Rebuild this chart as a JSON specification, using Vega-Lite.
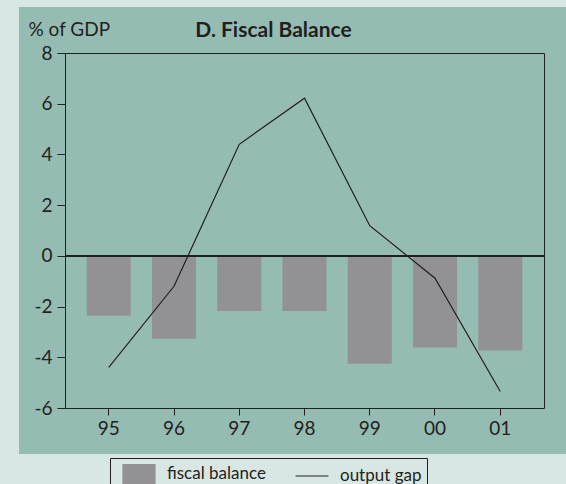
{
  "$schema": "https://vega.github.io/schema/vega-lite/v6.json",
  "width": 479,
  "height": 355,
  "autosize": {"type": "none"},
  "padding": {"left": 65, "top": 53, "right": 22, "bottom": 76},
  "background": "#d8e7e3",
  "config": {
    "font": "Lato",
    "view": {"fill": "#95bcb2", "stroke": "#95bcb2", "strokeWidth": 92},
    "axis": {
      "domainColor": "#231f20",
      "tickColor": "#231f20",
      "labelColor": "#231f20",
      "titleColor": "#231f20",
      "labelFontSize": 19,
      "labelFont": "Lato",
      "grid": false,
      "domainWidth": 1,
      "tickWidth": 1
    }
  },
  "data": {
    "values": [
      {"year": "95", "series": "fiscal balance", "value": -2.36},
      {"year": "96", "series": "fiscal balance", "value": -3.27},
      {"year": "97", "series": "fiscal balance", "value": -2.17},
      {"year": "98", "series": "fiscal balance", "value": -2.17},
      {"year": "99", "series": "fiscal balance", "value": -4.25},
      {"year": "00", "series": "fiscal balance", "value": -3.61},
      {"year": "01", "series": "fiscal balance", "value": -3.73},
      {"year": "95", "series": "output gap", "value": -4.4},
      {"year": "96", "series": "output gap", "value": -1.2},
      {"year": "97", "series": "output gap", "value": 4.4},
      {"year": "98", "series": "output gap", "value": 6.22},
      {"year": "99", "series": "output gap", "value": 1.19},
      {"year": "00", "series": "output gap", "value": -0.88},
      {"year": "01", "series": "output gap", "value": -5.35}
    ]
  },
  "layer": [
    {
      "transform": [{"filter": "datum.series === 'fiscal balance'"}],
      "mark": {"type": "bar"},
      "encoding": {
        "x": {
          "field": "year", "type": "ordinal", "sort": null,
          "scale": {"paddingInner": 0.325, "paddingOuter": 0.333},
          "axis": {"orient": "bottom", "labelAngle": 0, "tickSize": 7, "labelPadding": 4, "title": null}
        },
        "y": {
          "field": "value", "type": "quantitative",
          "scale": {"domain": [-6, 8], "nice": false, "zero": false},
          "axis": {
            "orient": "left", "values": [-6, -4, -2, 0, 2, 4, 6, 8], "tickSize": 8, "labelPadding": 5,
            "labelExpr": "datum.value < 0 ? '-' + abs(datum.value) : '' + datum.value",
            "title": "% of GDP", "titleAngle": 0, "titleAlign": "left", "titleBaseline": "alphabetic",
            "titleX": -37, "titleY": -18, "titleFontSize": 19, "titleFontWeight": "normal"
          }
        },
        "color": {
          "field": "series", "type": "nominal",
          "scale": {"domain": ["fiscal balance", "output gap"], "range": ["#929296", "#231f20"]},
          "legend": {
            "orient": "none", "legendX": 45, "legendY": 405, "direction": "horizontal", "title": null,
            "fillColor": "#d8e7e3", "strokeColor": "#231f20", "padding": 5,
            "symbolSize": 400, "symbolOffset": 13, "labelFontSize": 17, "labelColor": "#231f20", "labelOffset": 17,
            "columnPadding": 22, "symbolStrokeWidth": 1.2,
            "encode": {
              "symbols": {
                "update": {
                  "shape": {"signal": "datum.value === 'output gap' ? 'M-1.65,0H1.65' : 'M-1.6,-0.95H1.6V0.95H-1.6Z'"},
                  "fill": {"signal": "datum.value === 'output gap' ? 'transparent' : '#929296'"},
                  "stroke": {"signal": "datum.value === 'output gap' ? '#231f20' : 'transparent'"}
                }
              }
            }
          }
        }
      }
    },
    {
      "mark": {"type": "rule", "color": "#231f20", "strokeWidth": 1},
      "encoding": {"y": {"datum": 0, "type": "quantitative", "axis": null}}
    },
    {
      "transform": [{"filter": "datum.series === 'output gap'"}],
      "mark": {"type": "line", "strokeWidth": 1.2},
      "encoding": {
        "x": {
          "field": "year", "type": "ordinal", "sort": null,
          "axis": {
            "orient": "top", "labels": false, "ticks": false,
            "title": "D. Fiscal Balance", "titleFontWeight": "bold", "titleFontSize": 21,
            "titleX": 208, "titleY": -17, "titleAlign": "center", "titleBaseline": "alphabetic"
          }
        },
        "y": {
          "field": "value", "type": "quantitative",
          "axis": {"orient": "right", "labels": false, "ticks": false, "title": null}
        },
        "color": {"field": "series", "type": "nominal"}
      }
    }
  ],
  "resolve": {"axis": {"x": "independent", "y": "independent"}}
}
